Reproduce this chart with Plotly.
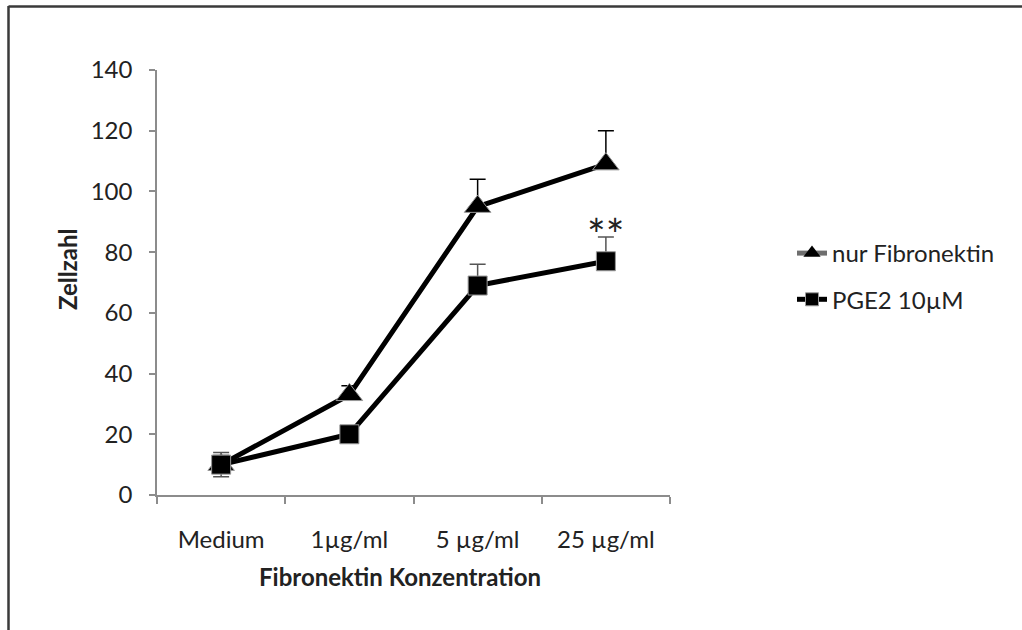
import plotly.graph_objects as go

categories = ["Medium", "1µg/ml", "5 µg/ml", "25 µg/ml"]
fn_values = [10, 33, 95, 109]
fn_err = [3, 3, 9, 11]
pge_values = [10, 20, 69, 77]
pge_err = [4, 1, 7, 8]
pge_err_minus = [4, 0, 0, 0]
y_ticks = [0, 20, 40, 60, 80, 100, 120, 140]
series_names = ["nur Fibronektin", "PGE2 10µM"]
x_title = "Fibronektin Konzentration"
y_title = "Zellzahl"
star_label = "**"
star_y = 86

FONT = "Lato"
TXT = "#222222"
AX = "#8c8c8c"

fig = go.Figure()

fig.add_trace(go.Scatter(
    x=categories, y=fn_values, mode="lines+markers", showlegend=False,
    line=dict(color="black", width=5),
    marker=dict(symbol="triangle-up", size=23, color="black", line=dict(color="#999", width=1)),
    error_y=dict(type="data", array=fn_err, symmetric=False, arrayminus=[0, 0, 0, 0],
                 color="black", thickness=1.5, width=8),
))
fig.add_trace(go.Scatter(
    x=categories, y=pge_values, mode="lines+markers", showlegend=False,
    line=dict(color="black", width=5),
    marker=dict(symbol="square", size=19, color="black", line=dict(color="#999", width=1)),
    error_y=dict(type="data", array=pge_err, symmetric=False, arrayminus=pge_err_minus,
                 color="#555", thickness=1.5, width=8),
))

# legend entries
fig.add_trace(go.Scatter(
    x=[None], y=[None], mode="lines+markers", name=series_names[0], legendgroup="a",
    line=dict(color="#6e6e6e", width=5),
    marker=dict(symbol="triangle-up", size=15, color="black"),
))
fig.add_trace(go.Scatter(
    x=[None], y=[None], mode="lines+markers", name=series_names[1], legendgroup="b",
    line=dict(color="black", width=5),
    marker=dict(symbol="square", size=13, color="black", line=dict(color="#999", width=1)),
))

fig.add_annotation(x=categories[3], y=star_y, text=star_label, showarrow=False,
                   font=dict(family=FONT, size=44, color="#222"), yanchor="middle")

L, R, T, B = 157, 670, 70, 495
W, H = R - L, B - T
px = lambda p: (p - L) / W
py = lambda p: (B - p) / H

# axis titles
fig.add_annotation(xref="paper", yref="paper", x=px(400), y=py(576), text="<b>" + x_title + "</b>",
                   showarrow=False, xanchor="center", yanchor="middle",
                   font=dict(family=FONT, size=24, color=TXT))
fig.add_annotation(xref="paper", yref="paper", x=px(67), y=py(270), text="<b>" + y_title + "</b>",
                   showarrow=False, xanchor="center", yanchor="middle", textangle=-90,
                   font=dict(family=FONT, size=24, color=TXT))

# frame lines (left and top border of the original image)
fig.add_shape(type="line", xref="paper", yref="paper",
              x0=px(8.5), x1=px(8.5), y0=py(6), y1=py(640),
              line=dict(color="#3a3a3a", width=2.5))
fig.add_shape(type="line", xref="paper", yref="paper",
              x0=px(8.5), x1=px(1030), y0=py(6.5), y1=py(6.5),
              line=dict(color="#3a3a3a", width=2.5))

fig.update_layout(
    width=1022, height=630,
    margin=dict(l=L, r=1022 - R, t=T, b=630 - B),
    paper_bgcolor="white", plot_bgcolor="white",
    font=dict(family=FONT, color=TXT, size=24),
    showlegend=True,
    legend=dict(x=px(792), y=py(231), xanchor="left", yanchor="top",
                font=dict(family=FONT, size=24, color=TXT),
                tracegroupgap=12, traceorder="grouped",
                bgcolor="rgba(0,0,0,0)"),
    xaxis=dict(
        type="category", range=[-0.5, 3.5], tickson="boundaries",
        showline=True, linecolor=AX, linewidth=1.5,
        ticks="outside", ticklen=7, tickcolor=AX, tickwidth=1.5,
        ticklabelstandoff=22,
        showgrid=False, zeroline=False,
        tickfont=dict(family=FONT, size=24, color=TXT),
    ),
    yaxis=dict(
        range=[0, 140], tickvals=y_ticks,
        showline=True, linecolor=AX, linewidth=1.5,
        ticks="outside", ticklen=6, tickcolor=AX, tickwidth=1.5,
        ticklabelstandoff=12,
        showgrid=False, zeroline=False,
        tickfont=dict(family=FONT, size=24, color=TXT),
    ),
)

fig.write_html("out.html", config={"displayModeBar": False},
               post_script="document.body.style.margin='0';")
